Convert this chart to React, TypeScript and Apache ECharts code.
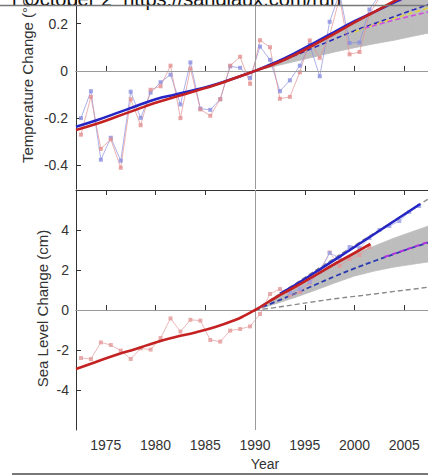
import React, { useEffect, useRef } from "react";
import * as echarts from "echarts";

// ---------- Temperature panel data ----------
const tempObsYears = [
  1972.5, 1973.5, 1974.5, 1975.5, 1976.5, 1977.5, 1978.5, 1979.5, 1980.5, 1981.5,
  1982.5, 1983.5, 1984.5, 1985.5, 1986.5, 1987.5, 1988.5, 1989.5, 1990.5, 1991.5,
  1992.5, 1993.5, 1994.5, 1995.5, 1996.5, 1997.5, 1998.5, 1999.5, 2000.5, 2001.5,
  2002.5, 2003.5, 2004.5, 2005.5, 2006.5,
];
const tempGiss = [
  -0.2, -0.086, -0.376, -0.283, -0.38, -0.088, -0.199, -0.092, -0.048, -0.016,
  -0.142, 0.036, -0.16, -0.165, -0.12, 0.019, 0.013, -0.03, 0.103, 0.047,
  -0.086, -0.04, 0.022, 0.11, -0.023, 0.208, 0.33, 0.118, 0.12, 0.26,
  0.32, 0.31, 0.3, 0.36, 0.33,
];
const tempHadley = [
  -0.27, -0.11, -0.33, -0.29, -0.41, -0.12, -0.23, -0.08, -0.065, 0.022,
  -0.2, 0.01, -0.163, -0.19, -0.12, 0.022, 0.06, -0.055, 0.13, 0.1,
  -0.118, -0.11, -0.006, 0.129, 0.055, 0.15, 0.31, 0.07, 0.08, 0.24,
  0.31, 0.31, 0.3, 0.33, 0.32,
];
const tempTrendYears = [
  1972, 1974, 1976, 1978, 1980, 1982, 1984, 1986, 1988, 1990,
  1992, 1994, 1996, 1998, 2000, 2002, 2004, 2006, 2008,
];
const tempTrendGiss = [
  -0.236, -0.21, -0.18, -0.15, -0.12, -0.1, -0.08, -0.058, -0.03, 0,
  0.035, 0.075, 0.12, 0.165, 0.21, 0.25, 0.29, 0.33, 0.37,
];
const tempTrendHadley = [
  -0.25, -0.225, -0.195, -0.165, -0.135, -0.11, -0.085, -0.06, -0.03, 0,
  0.03, 0.068, 0.112, 0.158, 0.205, 0.25, 0.295, 0.34, 0.385,
];
const projYears = [1990, 1992, 1994, 1996, 1998, 2000, 2002, 2004, 2006, 2008];
const tempBandLow = [0, 0.02, 0.04, 0.06, 0.08, 0.098, 0.115, 0.13, 0.148, 0.165];
const tempBandHigh = [0, 0.035, 0.075, 0.115, 0.16, 0.205, 0.25, 0.3, 0.35, 0.4];
const tempProjBlue = [0, 0.03, 0.065, 0.1, 0.135, 0.17, 0.2, 0.23, 0.26, 0.29];
const tempProjYellowYears = [2000, 2002, 2004, 2006, 2008];
const tempProjYellow = [0.165, 0.195, 0.222, 0.248, 0.275];
const tempProjMagentaYears = [2001, 2004, 2008];
const tempProjMagenta = [0.18, 0.215, 0.255];

// ---------- Sea level panel data ----------
const seaObsYears = [
  1972.5, 1973.5, 1974.5, 1975.5, 1976.5, 1977.5, 1978.5, 1979.5, 1980.5, 1981.5,
  1982.5, 1983.5, 1984.5, 1985.5, 1986.5, 1987.5, 1988.5, 1989.5, 1990.5, 1991.5,
  1992.5, 1993.5, 1994.5, 1995.5, 1996.5, 1997.5, 1998.5, 1999.5, 2000.5, 2001.5,
];
const seaTideGauge = [
  -2.4, -2.45, -1.62, -1.75, -2.03, -2.45, -1.92, -1.98, -1.4, -0.42,
  -1.08, -0.49, -0.53, -1.5, -1.58, -1.03, -0.95, -0.82, -0.2, 0.8,
  1.05, 0.72, 0.9, 1.35, 1.95, 2.88, 2.2, 2.55, 2.75, 3.15,
];
const seaSatYears = [
  1993.5, 1994.5, 1995.5, 1996.5, 1997.5, 1998.5, 1999.5, 2000.5, 2001.5, 2002.5,
  2003.5, 2004.5, 2005.5, 2006.5,
];
const seaSatellite = [0.85, 1.05, 1.4, 1.9, 2.85, 2.6, 3.15, 3.1, 3.6, 4.0, 4.2, 4.45, 4.9, 5.2];
const seaTrendTideYears = [
  1972, 1974, 1976, 1978, 1980, 1982, 1984, 1986, 1988, 1989, 1990, 1991, 1992,
  1994, 1996, 1998, 2000, 2001.6,
];
const seaTrendTide = [
  -2.95, -2.6, -2.25, -1.95, -1.62, -1.35, -1.12, -0.85, -0.5, -0.27, 0, 0.3, 0.6,
  1.15, 1.72, 2.3, 2.85, 3.3,
];
const seaTrendSatYears = [1992.5, 1995, 2000, 2006.6];
const seaTrendSat = [0.8, 1.55, 3.15, 5.3];
const seaBandLow = [0, 0.3, 0.62, 0.98, 1.35, 1.7, 1.95, 2.15, 2.3, 2.45];
const seaBandHigh = [0, 0.55, 1.12, 1.65, 2.25, 2.8, 3.2, 3.6, 3.95, 4.3];
const seaProjBlue = [0, 0.4, 0.82, 1.25, 1.68, 2.08, 2.45, 2.8, 3.15, 3.45];
const seaProjMagentaYears = [2003, 2008];
const seaProjMagenta = [2.65, 3.5];
const seaProjGrayLow = [0, 0.12, 0.27, 0.42, 0.56, 0.68, 0.8, 0.93, 1.05, 1.18];
const seaProjGrayHighYears = [1990, 1994, 1998, 2002, 2006, 2008];
const seaProjGrayHigh = [0, 1.3, 2.6, 3.85, 5.1, 5.75];

const zip = (xs: number[], ys: number[]) => xs.map((x, i) => [x, ys[i]]);

const FONT = "'Liberation Sans', Arial, sans-serif";
const TXT = "#333";

export default function App() {
  const ref = useRef<HTMLDivElement>(null);
  useEffect(() => {
    if (!ref.current) return;
    const chart = echarts.init(ref.current, undefined, { renderer: "svg" });

    const axisLine = { show: true, lineStyle: { color: "#333", width: 1 } };
    const tick = { show: true, inside: true, length: 5, lineStyle: { color: "#333" } };
    const xBase = {
      type: "value" as const,
      min: 1972,
      max: 2010,
      minInterval: 5,
      maxInterval: 5,
      axisLine,
      axisTick: tick,
      splitLine: { show: false },
    };

    const refLines = {
      silent: true,
      symbol: ["none", "none"],
      label: { show: false },
      lineStyle: { color: "#9a9a9a", type: "solid", width: 1 },
      data: [{ xAxis: 1990 }, { yAxis: 0 }],
    };

    const band = (years: number[], low: number[], high: number[], gi: number) => ({
      name: gi === 0 ? "tBand" : "sBand",
      type: "custom",
      xAxisIndex: gi === 0 ? 0 : 1,
      yAxisIndex: gi,
      clip: true,
      data: years.map((y, i) => [y, low[i], high[i]]),
      encode: { x: 0, y: [1, 2] },
      renderItem: (params: any, api: any) => {
        const i = params.dataIndex;
        if (i >= years.length - 1) return { type: "group", children: [] };
        const pts = [
          api.coord([years[i], low[i]]),
          api.coord([years[i + 1], low[i + 1]]),
          api.coord([years[i + 1], high[i + 1]]),
          api.coord([years[i], high[i]]),
        ];
        return {
          type: "polygon",
          shape: { points: pts },
          style: { fill: "#bdbdbd", stroke: "#bdbdbd", lineWidth: 0.8 },
        };
      },
      z: 2,
    });

    const dashed = (
      name: string,
      data: number[][],
      color: string,
      gi: number,
      width = 1.6,
      withRef = false
    ) => ({
      name,
      type: "line",
      xAxisIndex: gi === 0 ? 0 : 1,
      yAxisIndex: gi,
      data,
      symbol: "none",
      smooth: true,
      lineStyle: { color, width, type: [5, 3] },
      markLine: withRef ? refLines : undefined,
      z: 3,
    });

    const obs = (name: string, data: number[][], color: string, gi: number) => ({
      name,
      type: "line",
      xAxisIndex: gi === 0 ? 0 : 1,
      yAxisIndex: gi,
      data,
      symbol: "rect",
      symbolSize: 4,
      itemStyle: { color, opacity: 0.8 },
      lineStyle: { color, width: 1, opacity: 0.7 },
      z: 4,
    });

    const trend = (name: string, data: number[][], color: string, gi: number) => ({
      name,
      type: "line",
      xAxisIndex: gi === 0 ? 0 : 1,
      yAxisIndex: gi,
      data,
      symbol: "none",
      smooth: true,
      lineStyle: { color, width: 2.6 },
      z: 5,
    });

    const yLabel = {
      color: TXT,
      fontSize: 14,
      fontFamily: FONT,
      showMinLabel: false,
      showMaxLabel: false,
    };

    const option: any = {
      animation: false,
      backgroundColor: "#fff",
      textStyle: { fontFamily: FONT },
      grid: [
        { left: 76, top: 0, width: 378, height: 189 },
        { left: 76, top: 190, width: 378, height: 240 },
      ],
      xAxis: [
        { ...xBase, gridIndex: 0, position: "bottom", axisLabel: { show: false } },
        {
          ...xBase,
          gridIndex: 1,
          position: "bottom",
          axisLabel: {
            color: TXT,
            fontSize: 14,
            fontFamily: FONT,
            margin: 8,
            showMinLabel: false,
            showMaxLabel: false,
            formatter: (v: number) => String(v),
          },
          name: "Year",
          nameLocation: "middle",
          nameGap: 27,
          nameTextStyle: { color: TXT, fontSize: 14, fontFamily: FONT },
        },
        { ...xBase, gridIndex: 1, position: "top", axisLabel: { show: false } },
      ],
      yAxis: [
        {
          type: "value",
          gridIndex: 0,
          min: -0.5,
          max: 0.3,
          minInterval: 0.2,
          maxInterval: 0.2,
          axisLine,
          axisTick: tick,
          splitLine: { show: false },
          axisLabel: { ...yLabel, margin: 8 },
        },
        {
          type: "value",
          gridIndex: 1,
          min: -6,
          max: 6,
          interval: 2,
          axisLine,
          axisTick: tick,
          splitLine: { show: false },
          axisLabel: { ...yLabel, margin: 7 },
        },
      ],
      graphic: [
        {
          type: "text",
          z: 100,
          x: 12,
          y: 9,
          style: {
            text: "r October 2  https://sandiaux.com/run",
            fill: "#111",
            font: `20px ${FONT}`,
            verticalAlign: "bottom",
          },
        },
        {
          type: "line",
          z: 100,
          shape: { x1: 0, y1: 5.5, x2: 470, y2: 5.5 },
          style: { stroke: "#777", lineWidth: 1.5 },
        },
        {
          type: "line",
          z: 100,
          shape: { x1: 12, y1: 474, x2: 470, y2: 474 },
          style: { stroke: "#777", lineWidth: 2 },
        },
        {
          type: "text",
          x: 27.5,
          y: 163,
          rotation: Math.PI / 2,
          style: {
            text: "Temperature Change (°C)",
            fill: TXT,
            font: `15px ${FONT}`,
            align: "left",
            verticalAlign: "middle",
          },
        },
        {
          type: "text",
          x: 42.5,
          y: 308.5,
          rotation: Math.PI / 2,
          style: {
            text: "Sea Level Change (cm)",
            fill: TXT,
            font: `15px ${FONT}`,
            align: "center",
            verticalAlign: "middle",
          },
        },
      ],
      series: [
        // ---- Temperature panel ----
        band(projYears, tempBandLow, tempBandHigh, 0),
        dashed("tProjBlue", zip(projYears, tempProjBlue), "#2a2ab8", 0, 1.6, true),
        dashed("tProjYellow", zip(tempProjYellowYears, tempProjYellow), "#e0d040", 0),
        dashed("tProjMagenta", zip(tempProjMagentaYears, tempProjMagenta), "#d050e0", 0),
        obs("GISS", zip(tempObsYears, tempGiss), "#8a8ee0", 0),
        obs("Hadley", zip(tempObsYears, tempHadley), "#e39090", 0),
        trend("GISS trend", zip(tempTrendYears, tempTrendGiss), "#2626c4", 0),
        trend("Hadley trend", zip(tempTrendYears, tempTrendHadley), "#c42222", 0),

        // ---- Sea level panel ----
        band(projYears, seaBandLow, seaBandHigh, 1),
        dashed("sProjGrayLow", zip(projYears, seaProjGrayLow), "#8a8a8a", 1, 1.4, true),
        dashed("sProjGrayHigh", zip(seaProjGrayHighYears, seaProjGrayHigh), "#8a8a8a", 1, 1.4),
        dashed("sProjBlue", zip(projYears, seaProjBlue), "#2a3ab0", 1, 1.8),
        dashed("sProjMagenta", zip(seaProjMagentaYears, seaProjMagenta), "#b030e0", 1, 2),
        obs("Tide gauge", zip(seaObsYears, seaTideGauge), "#e39a9a", 1),
        obs("Satellite", zip(seaSatYears, seaSatellite), "#9aa0e8", 1),
        trend("Satellite trend", zip(seaTrendSatYears, seaTrendSat), "#2626c4", 1),
        trend("Tide gauge trend", zip(seaTrendTideYears, seaTrendTide), "#c42222", 1),
      ],
    };

    chart.setOption(option);
    return () => chart.dispose();
  }, []);

  return (
    <div
      style={{
        position: "fixed",
        left: 0,
        top: 0,
        width: 428,
        height: 476,
        overflow: "hidden",
        background: "#fff",
      }}
    >
      <div ref={ref} style={{ width: 470, height: 476 }} />
    </div>
  );
}
